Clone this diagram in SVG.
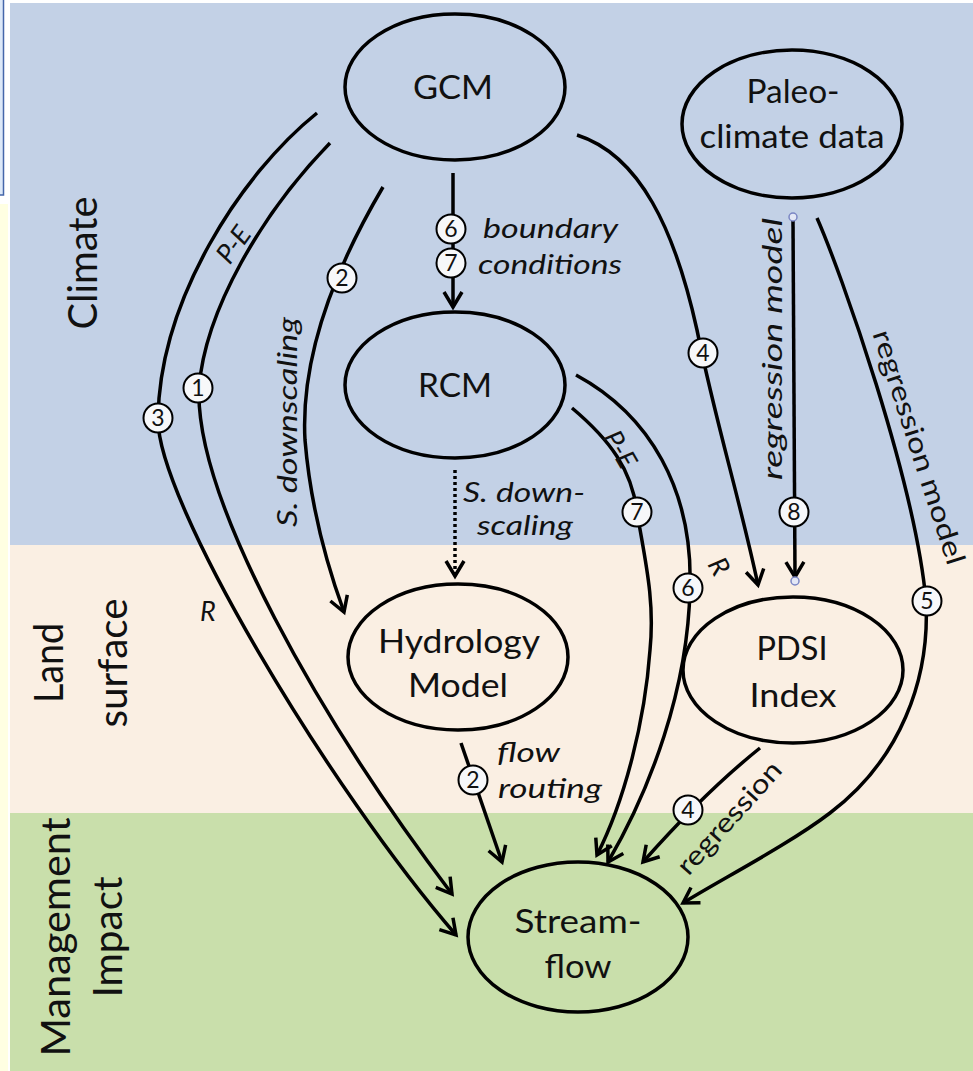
<svg xmlns="http://www.w3.org/2000/svg" width="973" height="1071" viewBox="0 0 973 1071">
<style>
.node{fill:none;stroke:#000;stroke-width:3.5}
.ntext{font-family:Lato,"Open Sans",sans-serif;font-size:33px;fill:#111;text-anchor:middle}
.sec{font-family:Lato,"Open Sans",sans-serif;font-size:41px;fill:#111;text-anchor:middle}
.lab{font-family:Lato,"Open Sans",sans-serif;font-size:27px;font-style:italic;fill:#111}
.labr{font-family:Lato,"Open Sans",sans-serif;font-size:27px;fill:#111;text-anchor:middle}
.sm{font-family:Lato,"Open Sans",sans-serif;font-size:27px;font-style:italic;fill:#111;text-anchor:middle}
.edge{fill:none;stroke:#000;stroke-width:3.5}
.num circle{fill:#F7F8FA;stroke:#000;stroke-width:2}
.num text{font-family:Lato,"Open Sans",sans-serif;font-size:23px;fill:#111;text-anchor:middle}
</style>
<defs>
<marker id="ah" markerUnits="userSpaceOnUse" markerWidth="26" markerHeight="26" viewBox="-18 -13 22 26" refX="0" refY="0" orient="auto">
<path d="M-15,-9 L0,0 L-15,9" fill="none" stroke="#000" stroke-width="3.5"/>
</marker>
</defs>
<!-- background -->
<rect x="0" y="0" width="973" height="1071" fill="#FFFFFF"/>
<rect x="0" y="204" width="8" height="867" fill="#FFFFE2"/>
<rect x="-2" y="-2" width="5.5" height="197" fill="#DCE8F8" stroke="#4466AA" stroke-width="1.5"/>
<rect x="10" y="3" width="963" height="542" fill="#C3D1E6"/>
<rect x="10" y="545" width="963" height="268" fill="#FAEFE3"/>
<rect x="10" y="813" width="963" height="258" fill="#C9DFAB"/>

<!-- section labels -->
<text class="sec" transform="translate(97,263) rotate(-90)" textLength="133" lengthAdjust="spacingAndGlyphs">Climate</text>
<text class="sec" transform="translate(63,663) rotate(-90)" textLength="80" lengthAdjust="spacingAndGlyphs">Land</text>
<text class="sec" transform="translate(127,663) rotate(-90)" textLength="129" lengthAdjust="spacingAndGlyphs">surface</text>
<text class="sec" transform="translate(70,937) rotate(-90)" textLength="239" lengthAdjust="spacingAndGlyphs">Management</text>
<text class="sec" transform="translate(122,937) rotate(-90)" textLength="121" lengthAdjust="spacingAndGlyphs">Impact</text>

<!-- connectors -->
<g id="connectors">
<path class="edge" d="M317,113 C240,175 160,300 158,418 C156,500 330,790 456,935" marker-end="url(#ah)"/>
<path class="edge" d="M330,143 C262,213 205,310 199,388 C195,500 320,720 452,894" marker-end="url(#ah)"/>
<path class="edge" d="M383,187 C340,260 300,350 305,440 C310,500 325,560 344,612" marker-end="url(#ah)"/>
<path class="edge" d="M453,173 L453,307" marker-end="url(#ah)"/>
<path class="edge" d="M577,135 C640,155 675,230 697,330 C715,420 740,500 758,585" marker-end="url(#ah)"/>
<path class="edge" d="M793,221 L795,577" marker-end="url(#ah)"/>
<path class="edge" d="M817,218 C840,270 915,480 926,601 C930,680 900,760 830,813 C788,845 720,880 683,903" marker-end="url(#ah)"/>
<path class="edge" d="M760,748 Q705,792 643,862" marker-end="url(#ah)"/>
<path class="edge" d="M576,375 C650,415 693,490 690,588 C688,690 650,790 608,862" marker-end="url(#ah)"/>
<path class="edge" d="M572,408 C610,440 632,470 637,512 C645,560 655,600 650,650 C645,720 625,800 597,855" marker-end="url(#ah)"/>
<path class="edge" d="M461,743 L502,862" marker-end="url(#ah)"/>
<path class="edge" d="M455,470 L455,576" stroke-dasharray="3,3" marker-end="url(#ah)"/>
<circle cx="793" cy="217" r="4" fill="#E4E8F6" stroke="#7A86C4" stroke-width="1.5"/>
<circle cx="795" cy="581" r="4" fill="#E4E8F6" stroke="#7A86C4" stroke-width="1.5"/>
</g>

<!-- edge labels -->
<g id="edge-labels">
<text class="sm" transform="translate(241,250) rotate(-54)">P-E</text>
<text class="sm" x="208" y="621">R</text>
<text class="lab" text-anchor="middle" transform="translate(297,422) rotate(-90)" textLength="210" lengthAdjust="spacingAndGlyphs">S. downscaling</text>
<text class="lab" x="483" y="238" textLength="135" lengthAdjust="spacingAndGlyphs">boundary</text>
<text class="lab" x="478" y="274" textLength="144" lengthAdjust="spacingAndGlyphs">conditions</text>
<text class="lab" text-anchor="middle" transform="translate(782,349) rotate(-90)" textLength="262" lengthAdjust="spacingAndGlyphs">regression model</text>
<text class="labr" transform="translate(910,450) rotate(72)" textLength="245" lengthAdjust="spacingAndGlyphs">regression model</text>
<text class="lab" x="463" y="502" textLength="122" lengthAdjust="spacingAndGlyphs">S. down-</text>
<text class="lab" x="477" y="535" textLength="96" lengthAdjust="spacingAndGlyphs">scaling</text>
<text class="sm" transform="translate(612,454) rotate(60)">P-E</text>
<text class="sm" transform="translate(711,571) rotate(60)">R</text>
<text class="lab" x="497" y="762" textLength="63" lengthAdjust="spacingAndGlyphs">flow</text>
<text class="lab" x="498" y="798" textLength="104" lengthAdjust="spacingAndGlyphs">routing</text>
<text class="labr" font-size="25" transform="translate(736,824) rotate(-48)" textLength="142" lengthAdjust="spacingAndGlyphs">regression</text>
</g>

<!-- number markers -->
<g id="markers" class="num">
<g><circle cx="451" cy="229" r="14.5"/><text x="451" y="237">6</text></g>
<g><circle cx="451" cy="263" r="14.5"/><text x="451" y="271">7</text></g>
<g><circle cx="342" cy="278" r="14.5"/><text x="342" y="286">2</text></g>
<g><circle cx="198" cy="388" r="14.5"/><text x="198" y="396">1</text></g>
<g><circle cx="158" cy="418" r="14.5"/><text x="158" y="426">3</text></g>
<g><circle cx="703" cy="353" r="14.5"/><text x="703" y="361">4</text></g>
<g><circle cx="637" cy="512" r="14.5"/><text x="637" y="520">7</text></g>
<g><circle cx="794" cy="512" r="14.5"/><text x="794" y="520">8</text></g>
<g><circle cx="688" cy="588" r="14.5"/><text x="688" y="596">6</text></g>
<g><circle cx="927" cy="601" r="14.5"/><text x="927" y="609">5</text></g>
<g><circle cx="473" cy="780" r="14.5"/><text x="473" y="788">2</text></g>
<g><circle cx="688" cy="810" r="14.5"/><text x="688" y="818">4</text></g>
</g>

<!-- nodes -->
<g id="gcm"><ellipse class="node" cx="455" cy="87" rx="110" ry="73"/><text class="ntext" x="453" y="99" textLength="80" lengthAdjust="spacingAndGlyphs">GCM</text></g>
<g id="paleo"><ellipse class="node" cx="792" cy="124" rx="110" ry="74"/><text class="ntext" x="793" y="103" textLength="93" lengthAdjust="spacingAndGlyphs">Paleo-</text><text class="ntext" x="792" y="148" textLength="185" lengthAdjust="spacingAndGlyphs">climate data</text></g>
<g id="rcm"><ellipse class="node" cx="455" cy="385" rx="110" ry="73"/><text class="ntext" x="455" y="397" textLength="74" lengthAdjust="spacingAndGlyphs">RCM</text></g>
<g id="hydrology"><ellipse class="node" cx="458" cy="657" rx="110" ry="73"/><text class="ntext" x="459" y="653" textLength="162" lengthAdjust="spacingAndGlyphs">Hydrology</text><text class="ntext" x="458" y="697" textLength="100" lengthAdjust="spacingAndGlyphs">Model</text></g>
<g id="pdsi"><ellipse class="node" cx="793" cy="670" rx="110" ry="73"/><text class="ntext" x="792" y="660" textLength="71" lengthAdjust="spacingAndGlyphs">PDSI</text><text class="ntext" x="793" y="707" textLength="87" lengthAdjust="spacingAndGlyphs">Index</text></g>
<g id="streamflow"><ellipse class="node" cx="578" cy="937" rx="110" ry="75"/><text class="ntext" x="578" y="933" textLength="127" lengthAdjust="spacingAndGlyphs">Stream-</text><text class="ntext" x="578" y="978" textLength="67" lengthAdjust="spacingAndGlyphs">flow</text></g>
</svg>
